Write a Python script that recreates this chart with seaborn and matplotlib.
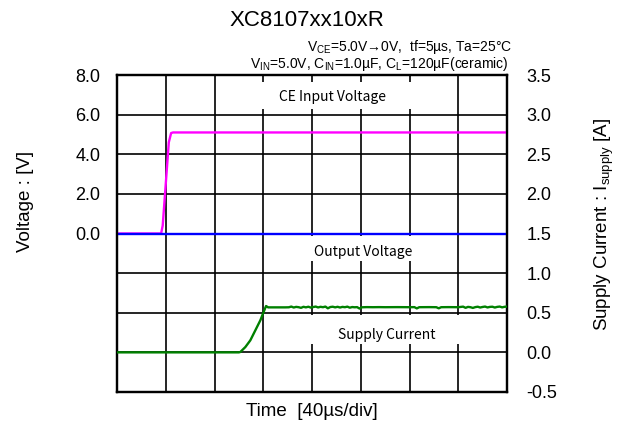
from matplotlib import pyplot as plt
from matplotlib.ticker import FixedLocator, FixedFormatter
import seaborn as sns
import numpy as np

# CE input voltage (magenta), time in us, voltage in V
t_ce = [0, 36.2, 37.5, 42.5, 44.4, 46, 320]
v_ce = [0, 0, 0.4, 4.6, 5.07, 5.1, 5.1]

# output voltage (blue)
t_out = [0, 320]
v_out = [0, 0]

# supply current (green), current in A
t_cur = [0, 100, 101.2, 105.3, 109.4, 113.5, 117.6, 120.3, 122.3, 124, 130, 138, 141,
         143, 145, 147, 149, 151, 153, 155, 157, 159, 161, 163, 165, 167, 169, 171,
         173, 175, 177, 179, 181, 183, 185, 187, 189, 191, 193, 195, 197, 199, 201,
         205, 210, 215, 220, 230, 240, 244, 246, 248, 256, 262, 264, 266, 272, 280,
         284, 286, 288, 290, 292, 294, 296, 298, 300, 302, 304, 306, 308, 310, 312,
         314, 316, 318, 320]
i_cur = [0, 0, 0.005, 0.067, 0.152, 0.278, 0.404, 0.509, 0.585, 0.568, 0.568, 0.568, 0.569,
         0.578, 0.566, 0.574, 0.570, 0.562, 0.575, 0.568, 0.576, 0.565, 0.572, 0.578, 0.567, 0.575, 0.570, 0.578,
         0.556, 0.572, 0.576, 0.568, 0.575, 0.566, 0.574, 0.570, 0.577, 0.564, 0.572, 0.569, 0.571, 0.553, 0.569,
         0.571, 0.570, 0.571, 0.570, 0.571, 0.570, 0.571, 0.555, 0.570, 0.571, 0.570, 0.556, 0.570, 0.571, 0.570,
         0.577, 0.562, 0.574, 0.570, 0.561, 0.571, 0.576, 0.566, 0.573, 0.578, 0.567, 0.574, 0.576, 0.566, 0.574,
         0.578, 0.568, 0.575, 0.578]

x_ticks = [0, 40, 80, 120, 160, 200, 240, 280, 320]
v_ticks = [-8, -6, -4, -2, 0, 2, 4, 6, 8]
v_ticklabels = ["", "", "", "", "0.0", "2.0", "4.0", "6.0", "8.0"]
i_ticks = [-0.5, 0.0, 0.5, 1.0, 1.5, 2.0, 2.5, 3.0, 3.5]
i_ticklabels = ["-0.5", "0.0", "0.5", "1.0", "1.5", "2.0", "2.5", "3.0", "3.5"]

# trace labels: text, x centre, y centre (left axis units), box x0, x1, y0, y1
trace_labels = [
    ("CE Input Voltage", 176.6, 6.87, 113.5, 248.8, 6.26, 7.63),
    ("Output Voltage", 202, -0.91, 142.6, 265.6, -1.41, -0.12),
    ("Supply Current", 221.7, -5.1, 150, 292, -5.56, -4.1),
]

sns.set_style("white")
plt.rcParams["font.family"] = ["Liberation Sans", "DejaVu Sans"]
plt.rcParams["mathtext.default"] = "regular"
plt.rcParams["text.color"] = "black"
plt.rcParams["xtick.color"] = "black"
plt.rcParams["ytick.color"] = "black"

fig = plt.figure(figsize=(6.28, 4.29), dpi=100)
ax = fig.add_axes([117 / 628, 37 / 429, 390 / 628, 317 / 429])
ax2 = ax.twinx()

ax.set_xlim(0, 320)
ax.set_ylim(-8, 8)
ax2.set_ylim(-0.5, 3.5)

ax.xaxis.set_major_locator(FixedLocator(x_ticks))
ax.set_xticklabels([])
ax.yaxis.set_major_locator(FixedLocator(v_ticks))
ax.yaxis.set_major_formatter(FixedFormatter(v_ticklabels))
ax2.yaxis.set_major_locator(FixedLocator(i_ticks))
ax2.yaxis.set_major_formatter(FixedFormatter(i_ticklabels))

ax.set_axisbelow(True)
ax.grid(True, color="black", linewidth=1.2)
ax.tick_params(axis="both", length=0, labelsize=13, pad=12, colors="black")
ax2.tick_params(axis="y", length=0, labelsize=13, pad=14, colors="black")
for a in (ax, ax2):
    for s in a.spines.values():
        s.set_color("black")
        s.set_linewidth(1.6)

for text, tx, ty, x0, x1, y0, y1 in trace_labels:
    ax.add_patch(plt.Rectangle((x0, y0), x1 - x0, y1 - y0, facecolor="white",
                               edgecolor="none", zorder=1))
    ax.text(tx, ty, text, ha="center", va="center", fontsize=10,
            family=["Noto Sans CJK JP", "DejaVu Sans"], zorder=2)

sns.lineplot(x=t_ce, y=v_ce, ax=ax, color="#ff00ff", linewidth=1.7, estimator=None, zorder=4)
sns.lineplot(x=t_out, y=v_out, ax=ax, color="#0000ff", linewidth=1.7, estimator=None, zorder=4)
sns.lineplot(x=t_cur, y=i_cur, ax=ax2, color="#008000", linewidth=1.7, estimator=None, zorder=4)

ax.set_ylabel("")
ax.set_xlabel("")
ax2.set_ylabel("")

fig.text(25 / 628, 1 - 201 / 429, "Voltage : [V]", rotation=90, ha="center", va="center", fontsize=13.5)
fig.text(604 / 628, 1 - 224 / 429, r"Supply Current : I$_{supply}$ [A]", rotation=90,
         ha="center", va="center", fontsize=13.5)
fig.text(312 / 628, 1 - 412 / 429, "Time  [40µs/div]", ha="center", va="center", fontsize=13.5)
fig.text(307 / 628, 1 - 20 / 429, "XC8107xx10xR", ha="center", va="center", fontsize=16)
fig.text(512 / 628, 1 - 51 / 429, r"V$_{CE}$=5.0V→0V,  tf=5µs, Ta=25°C",
         ha="right", va="baseline", fontsize=10)
fig.text(508 / 628, 1 - 68 / 429, r"V$_{IN}$=5.0V, C$_{IN}$=1.0µF, C$_{L}$=120µF(ceramic)",
         ha="right", va="baseline", fontsize=10)

fig.savefig("out.png", dpi=100)
